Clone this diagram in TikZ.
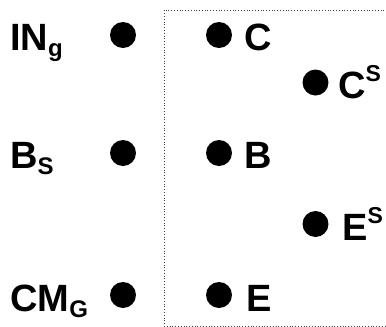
\documentclass[tikz,border=0pt]{standalone}
\usepackage{fontspec}
\setmainfont{Liberation Sans}
\newcommand\mysup[1]{\raisebox{17bp}{\fontsize{23bp}{23bp}\selectfont #1}}
\newcommand\mysub[1]{\raisebox{-6bp}{\fontsize{24bp}{24bp}\selectfont #1}}
\begin{document}
\begin{tikzpicture}[x=1bp,y=-1bp,
  dot/.style={circle,fill=black,inner sep=0pt,minimum size=26bp},
  lbl/.style={anchor=base west,inner sep=0pt,font=\fontsize{38bp}{40bp}\selectfont\bfseries},
  frame/.style={draw=black!75,dotted,line width=0.8bp}]
\useasboundingbox (0,0) rectangle (386,327);
% frame
\draw[frame] (387,10) -- (164,10) -- (164,326) -- (387,326);
% left column
\node[lbl] (tin) at (10,50) {IN\mysub{g}};
\node[dot] (din) at (123,35) {};
\node[lbl] (tbs) at (10,168) {B\mysub{S}};
\node[dot] (dbs) at (123,153) {};
\node[lbl] (tcm) at (10,311) {CM\mysub{G}};
\node[dot] (dcm) at (123,295) {};
% middle column
\node[dot] (dc) at (219,35) {};
\node[lbl] (tc) at (244,50) {C};
\node[dot] (db) at (219,153) {};
\node[lbl] (tb) at (244,168) {B};
\node[dot] (de) at (219,295) {};
\node[lbl] (te) at (246,311) {E};
% right column
\node[dot] (dcs) at (315.5,82.5) {};
\node[lbl] (tcs) at (338,98) {C\mysup{S}};
\node[dot] (des) at (315.5,224) {};
\node[lbl] (tes) at (342,240) {E\mysup{S}};
\end{tikzpicture}
\end{document}
